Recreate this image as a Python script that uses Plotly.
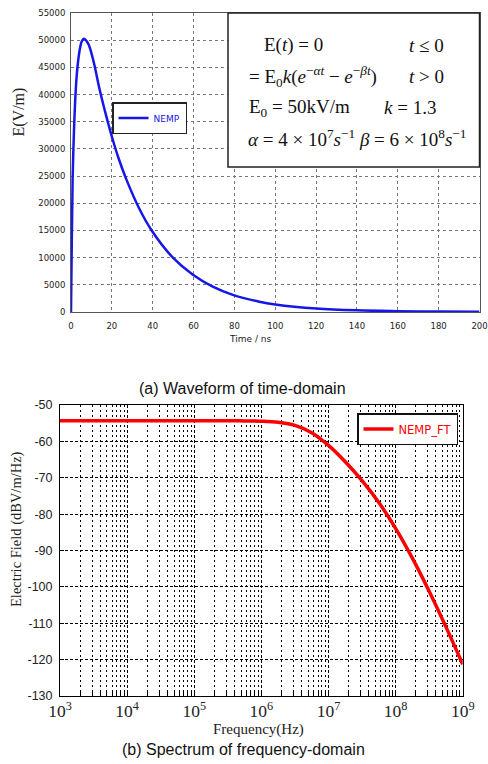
import plotly.graph_objects as go

# ---- (a) time-domain NEMP waveform ----
t_ns = [0, 0.4, 0.8, 1.3, 2.0, 2.8, 3.6, 4.5, 5.3, 6.3, 8.4, 10.9, 14.1, 17.4,
        20.6, 23.0, 27.2, 33.7, 39.5, 49.9, 59.7, 69.4, 79.2, 92.2, 100, 120,
        140, 160, 180, 200]
e_vm = [0, 13500, 24500, 31500, 38500, 43500, 46500, 48700, 49800, 50250, 49350,
        46300, 40800, 35850, 31500, 28600, 24300, 18800, 15000, 10000, 6850,
        4650, 3150, 1900, 1400, 650, 300, 150, 70, 30]

# ---- (b) frequency-domain spectrum (frequency given as log10 of Hz) ----
f_exp = [3.0, 4.0, 5.0, 5.5, 5.75, 6.0, 6.25, 6.5, 6.75, 7.0, 7.25, 7.5, 7.75,
         8.0, 8.25, 8.5, 8.75, 9.0]
e_db = [-54.3, -54.3, -54.3, -54.33, -54.37, -54.45, -54.75, -55.6, -57.6, -61.1,
        -65.6, -70.8, -76.8, -83.9, -92.1, -101.2, -111.0, -121.3]
freq_hz = [10 ** p for p in f_exp]

# y tick values of the spectrum plot
db_ticks = [-130, -120, -110, -100, -90, -80, -70, -60, -50]

W, H = 488, 764


def px(x):
    return x / W


def py(y):
    return 1 - y / H


fig = go.Figure()
fig.add_trace(go.Scatter(
    x=t_ns, y=e_vm, mode="lines", name="NEMP",
    line=dict(color="#1616e8", width=2.5, shape="spline", smoothing=1.0),
    xaxis="x", yaxis="y", legend="legend"))
fig.add_trace(go.Scatter(
    x=freq_hz, y=e_db, mode="lines", name="NEMP_FT",
    line=dict(color="#ff0000", width=3.5, shape="spline", smoothing=1.0),
    xaxis="x2", yaxis="y2", legend="legend2"))

top_tick = dict(family="DejaVu Sans", size=8.5, color="#222")
dotgrid = dict(showgrid=True, gridcolor="#777", griddash="dot", gridwidth=1)

fig.update_layout(
    width=W, height=H, margin=dict(l=0, r=0, t=0, b=0),
    paper_bgcolor="white", plot_bgcolor="white",
    xaxis=dict(domain=[px(71), px(479.5)], range=[0, 200], dtick=20, anchor="y",
               automargin=False, ticklabeloverflow="allow",
               tickfont=top_tick, ticks="", ticklabelstandoff=6, tickformat="d",
               showline=True, linecolor="#555", mirror=True, zeroline=False, **dotgrid),
    yaxis=dict(domain=[py(312), py(13)], range=[0, 55000], dtick=5000, anchor="x",
               automargin=False, ticklabeloverflow="allow",
               tickfont=top_tick, ticks="", ticklabelstandoff=3, tickformat="d",
               showline=True, linecolor="#555", mirror=True, zeroline=False, **dotgrid),
    xaxis2=dict(type="log", domain=[px(60), px(462.7)], range=[3, 9], dtick=1,
                anchor="y2", exponentformat="power", automargin=False,
                ticklabeloverflow="allow",
                tickfont=dict(family="Liberation Serif", size=14, color="#222"),
                ticks="inside", ticklen=5, tickcolor="black",
                showline=True, linecolor="black", mirror=True, zeroline=False,
                showgrid=True, gridcolor="black", griddash="3px,2px", gridwidth=1,
                minor=dict(dtick="D1", showgrid=True, gridcolor="black",
                           griddash="2px,3px", gridwidth=1,
                           ticks="inside", ticklen=4, tickcolor="black")),
    yaxis2=dict(domain=[py(696), py(405)], range=[-130, -50], anchor="x2",
                automargin=False, ticklabeloverflow="allow",
                tickmode="array", tickvals=db_ticks,
                ticktext=[str(v) for v in db_ticks],
                tickfont=dict(family="Liberation Sans", size=12.5, color="#222"),
                ticks="inside", ticklen=4, tickcolor="black", ticklabelstandoff=4,
                showline=True, linecolor="black", mirror=True, zeroline=False,
                showgrid=True, gridcolor="black", griddash="3px,2px", gridwidth=1),
    legend=dict(x=px(112), y=py(102), xanchor="left", yanchor="top",
                bgcolor="white", bordercolor="#222", borderwidth=1.5,
                font=dict(family="DejaVu Sans", size=9, color="#1616e8"),
                itemwidth=30, tracegroupgap=0),
    legend2=dict(x=px(357), y=py(413), xanchor="left", yanchor="top",
                 bgcolor="white", bordercolor="#111", borderwidth=1.5,
                 font=dict(family="DejaVu Sans", size=11.5, color="#ff0000"),
                 itemwidth=30),
    showlegend=True,
)

# formula panel in the upper-right part of the waveform plot
fig.add_shape(type="rect", xref="paper", yref="paper",
              x0=px(228), x1=px(479.5), y0=py(167), y1=py(13),
              fillcolor="white", line=dict(color="#222", width=1.5), layer="above")

eq_font = dict(family="Liberation Serif", size=19, color="#111")
eq_lines = [
    (262, 45, "E(<i>t</i>) = 0"),
    (407, 45, "<i>t</i> ≤ 0"),
    (247, 77, "= E<sub>0</sub><i>k</i>(<i>e</i><sup>−<i>αt</i></sup> − <i>e</i><sup>−<i>βt</i></sup>)"),
    (407, 77, "<i>t</i> > 0"),
    (247, 108, "E<sub>0</sub> = 50kV/m"),
    (382, 108, "<i>k</i> = 1.3"),
    (246, 138, "<i>α</i> = 4 × 10<sup>7</sup><i>s</i><sup>−1</sup> <i>β</i> = 6 × 10<sup>8</sup><i>s</i><sup>−1</sup>"),
]
for x, y, txt in eq_lines:
    fig.add_annotation(xref="paper", yref="paper", x=px(x), y=py(y), text=txt,
                       xanchor="left", yanchor="middle", showarrow=False, font=eq_font)

# axis titles and captions
fig.add_annotation(xref="paper", yref="paper", x=px(18.5), y=py(112), text="E(V/m)",
                   textangle=-90, showarrow=False, xanchor="center", yanchor="middle",
                   font=dict(family="Liberation Serif", size=16, color="#222"))
fig.add_annotation(xref="paper", yref="paper", x=px(250), y=py(339), text="Time / ns",
                   showarrow=False, xanchor="center", yanchor="middle",
                   font=dict(family="DejaVu Sans", size=9, color="#222"))
fig.add_annotation(xref="paper", yref="paper", x=px(242), y=py(388),
                   text="(a) Waveform of time-domain", showarrow=False,
                   xanchor="center", yanchor="middle",
                   font=dict(family="Liberation Sans", size=16, color="#111"))
fig.add_annotation(xref="paper", yref="paper", x=px(16.5), y=py(529.5),
                   text="Electric Field (dBV/m/Hz)", textangle=-90, showarrow=False,
                   xanchor="center", yanchor="middle",
                   font=dict(family="Liberation Serif", size=14.5, color="#222"))
fig.add_annotation(xref="paper", yref="paper", x=px(258), y=py(729),
                   text="Frequency(Hz)", showarrow=False,
                   xanchor="center", yanchor="middle",
                   font=dict(family="Liberation Serif", size=15, color="#222"))
fig.add_annotation(xref="paper", yref="paper", x=px(243), y=py(749),
                   text="(b) Spectrum of frequency-domain", showarrow=False,
                   xanchor="center", yanchor="middle",
                   font=dict(family="Liberation Sans", size=16, color="#111"))

fig.write_html("out.html")
